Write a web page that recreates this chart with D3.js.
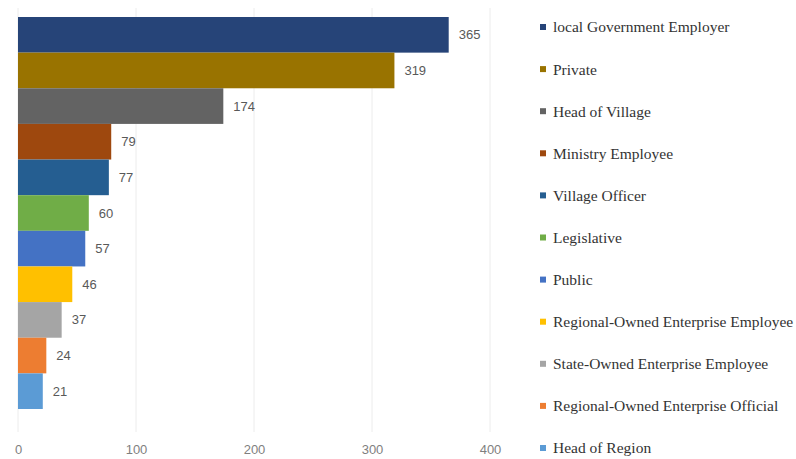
<!DOCTYPE html>
<html>
<head>
<meta charset="utf-8">
<script src="https://cdn.jsdelivr.net/npm/d3@7"></script>
<style>
  body { margin: 0; background: #fff; }
  svg { display: block; }
</style>
</head>
<body>
<div id="chart"></div>
<script>
// data
const categories = ["local Government Employer", "Private", "Head of Village", "Ministry Employee",
  "Village Officer", "Legislative", "Public", "Regional-Owned Enterprise Employee",
  "State-Owned Enterprise Employee", "Regional-Owned Enterprise Official", "Head of Region"];
const values = [365, 319, 174, 79, 77, 60, 57, 46, 37, 24, 21];
const legendLabels = ["local Government Employer", "Private", "Head of Village", "Ministry Employee",
  "Village Officer", "Legislative", "Public", "Regional-Owned Enterprise Employee",
  "State-Owned Enterprise Employee", "Regional-Owned Enterprise Official", "Head of Region"];
const xTicks = [0, 100, 200, 300, 400];
const colors = ["#264478", "#997300", "#636363", "#9e480e", "#255e91", "#70ad47",
  "#4472c4", "#ffc000", "#a5a5a5", "#ed7d31", "#5b9bd5"];

const W = 796, H = 459;
const margin = {top: 17, left: 18, plotRight: 490, plotBottom: 409};

const svg = d3.select("#chart").append("svg")
  .attr("width", W)
  .attr("height", H);

const x = d3.scaleLinear()
  .domain([0, 400])
  .range([margin.left, margin.plotRight]);

const y = d3.scaleBand()
  .domain(categories)
  .range([margin.top, margin.plotBottom])
  .paddingInner(0.0);

// gridlines
svg.append("g")
  .selectAll("line")
  .data(xTicks)
  .enter()
  .append("line")
    .attr("x1", d => x(d))
    .attr("x2", d => x(d))
    .attr("y1", 8)
    .attr("y2", 432)
    .attr("stroke", "#ececec")
    .attr("stroke-width", 1);

// bars
svg.append("g")
  .selectAll("rect")
  .data(values)
  .enter()
  .append("rect")
    .attr("x", x(0))
    .attr("y", (d, i) => y(categories[i]))
    .attr("width", d => x(d) - x(0))
    .attr("height", y.bandwidth())
    .attr("fill", (d, i) => colors[i]);

// value labels
svg.append("g")
  .selectAll("text")
  .data(values)
  .enter()
  .append("text")
    .attr("x", d => x(d) + 10)
    .attr("y", (d, i) => y(categories[i]) + y.bandwidth() / 2)
    .attr("dy", "0.35em")
    .attr("font-family", "Liberation Sans, Arial, sans-serif")
    .attr("font-size", 13)
    .attr("fill", "#595959")
    .text(d => d);

// x axis labels
const xAxis = svg.append("g")
  .attr("transform", "translate(0,454)")
  .call(d3.axisBottom(x).tickValues(xTicks).tickSize(0).tickPadding(0));
xAxis.select(".domain").remove();
xAxis.selectAll("text")
  .attr("dy", "0")
  .attr("font-family", "Liberation Sans, Arial, sans-serif")
  .attr("font-size", 13)
  .attr("fill", "#7f7f7f");

// legend
const legend = svg.append("g")
  .selectAll("g")
  .data(legendLabels)
  .enter()
  .append("g")
    .attr("transform", (d, i) => "translate(540," + (27 + i * 42.1) + ")");
legend.append("rect")
  .attr("x", 0)
  .attr("y", -3)
  .attr("width", 6)
  .attr("height", 6)
  .attr("fill", (d, i) => colors[i]);
legend.append("text")
  .attr("x", 13)
  .attr("dy", "0.35em")
  .attr("font-family", "Liberation Serif, Times New Roman, serif")
  .attr("font-size", 15.5)
  .attr("fill", "#333")
  .text(d => d);
</script>
</body>
</html>
